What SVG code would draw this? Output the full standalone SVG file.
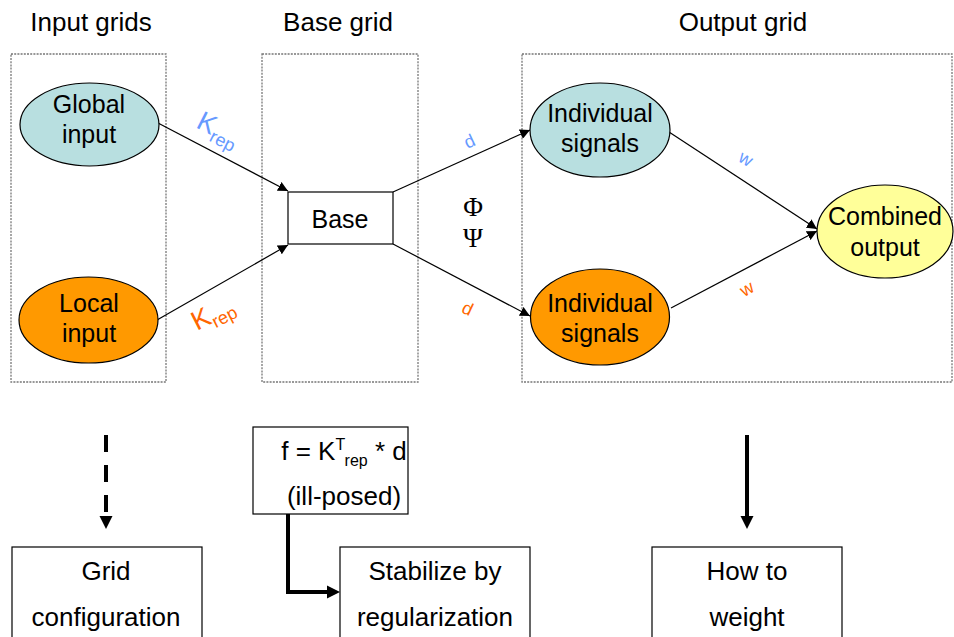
<svg xmlns="http://www.w3.org/2000/svg" width="954" height="637" viewBox="0 0 954 637">
<defs>
<style>
text{font-family:"Liberation Sans",Arial,sans-serif;fill:#000}
.t{font-size:26px;text-anchor:middle}
.n{font-size:25px;text-anchor:middle}
.grid{fill:none;stroke:#777;stroke-width:1.3;stroke-dasharray:2,1.2}
.box{fill:#fff;stroke:#000;stroke-width:1.2}
.ell{stroke:#000;stroke-width:1.2}
.c{stroke:#000;stroke-width:1.2;fill:none}
.thick{stroke:#000;stroke-width:4;fill:none}
.blue{fill:#6699ff}
.orange{fill:#ff6600}
.sm{font-size:18px;text-anchor:middle}
.greek{font-family:"Liberation Serif","Times New Roman",serif;font-size:27px;text-anchor:middle}
</style>
<marker id="a" viewBox="0 0 10 10" refX="10" refY="5" markerWidth="10" markerHeight="10" markerUnits="userSpaceOnUse" orient="auto">
<path d="M0,0 L10,5 L0,10 Z" fill="#000"/>
</marker>
</defs>

<g id="titles">
<text class="t" x="91" y="31">Input grids</text>
<text class="t" x="338" y="31">Base grid</text>
<text class="t" x="743" y="31">Output grid</text>
</g>

<g id="grids">
<rect class="grid" x="11" y="54" width="155" height="328"/>
<rect class="grid" x="262" y="54" width="156" height="328"/>
<rect class="grid" x="522" y="54" width="430" height="328"/>
</g>

<g id="connectors">
<line class="c" x1="158" y1="123" x2="288" y2="191" marker-end="url(#a)"/>
<line class="c" x1="157" y1="320" x2="288" y2="245" marker-end="url(#a)"/>
<line class="c" x1="393" y1="192" x2="530" y2="130" marker-end="url(#a)"/>
<line class="c" x1="393" y1="244" x2="530" y2="316" marker-end="url(#a)"/>
<line class="c" x1="669" y1="132" x2="817" y2="229" marker-end="url(#a)"/>
<line class="c" x1="671" y1="308" x2="817" y2="231" marker-end="url(#a)"/>
<line class="thick" x1="106" y1="435" x2="106" y2="516" stroke-dasharray="17,13"/>
<path d="M99.5,516 L112.5,516 L106,529 Z" fill="#000"/>
<line class="thick" x1="747" y1="435" x2="747" y2="517"/>
<path d="M740.5,516 L753.5,516 L747,529 Z" fill="#000"/>
<path class="thick" d="M288,514 L288,592 L328,592"/>
<path d="M327,585.5 L340,592 L327,598.5 Z" fill="#000"/>
</g>

<g id="labels">
<text transform="translate(195,127) rotate(27)" class="blue" style="font-size:27px">K<tspan dy="6" style="font-size:18px">rep</tspan></text>
<text transform="translate(197,331) rotate(-27)" class="orange" style="font-size:27px">K<tspan dy="6" style="font-size:18px">rep</tspan></text>
<text transform="translate(472,147) rotate(-25)" class="blue sm">d</text>
<text transform="translate(465,314) rotate(25)" class="orange sm">d</text>
<text transform="translate(743,164) rotate(30)" class="blue sm">w</text>
<text transform="translate(750,294) rotate(-30)" class="orange sm">w</text>
<text class="greek" x="473" y="216">Φ</text>
<text class="greek" x="473" y="247">Ψ</text>
</g>

<g id="global-input">
<ellipse class="ell" cx="89.5" cy="124.5" rx="69.5" ry="41.5" fill="#b8dfe0"/>
<text class="n" x="89" y="113">Global</text>
<text class="n" x="89" y="143">input</text>
</g>

<g id="local-input">
<ellipse class="ell" cx="88.5" cy="320" rx="69.5" ry="43" fill="#ff9900"/>
<text class="n" x="89" y="312">Local</text>
<text class="n" x="89" y="342">input</text>
</g>

<g id="base">
<rect class="box" x="288" y="192" width="105" height="52"/>
<text class="n" x="340" y="228">Base</text>
</g>

<g id="individual-signals-1">
<ellipse class="ell" cx="600" cy="130" rx="70" ry="47" fill="#b8dfe0"/>
<text class="n" x="600" y="122">Individual</text>
<text class="n" x="600" y="152">signals</text>
</g>

<g id="individual-signals-2">
<ellipse class="ell" cx="600" cy="317" rx="69.5" ry="48" fill="#ff9900"/>
<text class="n" x="600" y="312">Individual</text>
<text class="n" x="600" y="342">signals</text>
</g>

<g id="combined-output">
<ellipse class="ell" cx="885" cy="231.5" rx="68" ry="46.5" fill="#ffff99"/>
<text class="n" x="885" y="225">Combined</text>
<text class="n" x="885" y="256">output</text>
</g>

<g id="grid-configuration">
<rect class="box" x="12" y="547" width="190" height="100"/>
<text class="t" x="106" y="580">Grid</text>
<text class="t" x="106" y="626">configuration</text>
</g>

<g id="formula">
<rect class="box" x="253" y="427" width="155" height="87"/>
<text class="t" x="344" y="460">f = K<tspan dy="-10" style="font-size:16px">T</tspan><tspan dy="16" style="font-size:16px">rep</tspan><tspan dy="-6"> * d</tspan></text>
<text class="t" x="344" y="505">(ill-posed)</text>
</g>

<g id="stabilize">
<rect class="box" x="340" y="547" width="190" height="100"/>
<text class="t" x="435" y="580">Stabilize by</text>
<text class="t" x="435" y="626">regularization</text>
</g>

<g id="how-to-weight">
<rect class="box" x="652" y="547" width="190" height="100"/>
<text class="t" x="747" y="580">How to</text>
<text class="t" x="747" y="626">weight</text>
</g>
</svg>
